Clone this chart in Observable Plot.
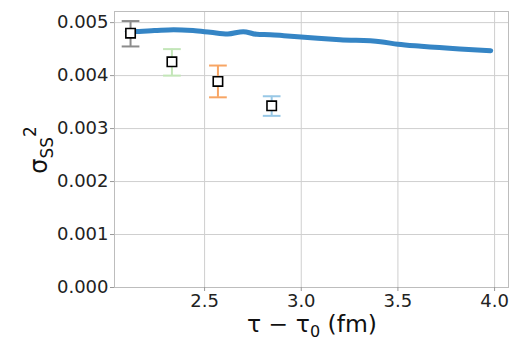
<!DOCTYPE html>
<html><head><meta charset="utf-8">
<script src="https://cdn.jsdelivr.net/npm/d3@7"></script>
<script src="https://cdn.jsdelivr.net/npm/@observablehq/plot@0.6"></script>
<style>body{margin:0;background:#fff;} svg{font-family:"DejaVu Sans",sans-serif;}</style>
</head><body><div id="chart"></div>
<script>
// Continuous curve
const lineX = [2.10, 2.13, 2.24, 2.34, 2.44, 2.53, 2.62, 2.70, 2.77, 2.84, 2.91, 3.05, 3.20, 3.41, 3.50, 3.62, 3.82, 3.98];
const lineY = [0.004830, 0.004832, 0.004850, 0.004867, 0.004850, 0.004818, 0.004786, 0.004830, 0.004780, 0.004772, 0.004754, 0.004716, 0.004678, 0.004640, 0.004591, 0.004553, 0.004502, 0.004470];
// Points with error bars
const ptX = [2.117, 2.331, 2.569, 2.847];
const ptY = [0.00480, 0.00426, 0.00389, 0.00343];
const ptLo = [0.00455, 0.00400, 0.00359, 0.00324];
const ptHi = [0.00503, 0.00450, 0.00419, 0.00361];
const ptColor = ["#8c8c8c", "#c3e6b8", "#f7a564", "#98c8e6"];
const xTicks = [2.5, 3.0, 3.5, 4.0];
const yTicks = [0, 0.001, 0.002, 0.003, 0.004, 0.005];

const lineData = lineX.map((x, i) => ({x, y: lineY[i]}));
const pts = ptX.map((x, i) => ({x, y: ptY[i], lo: ptLo[i], hi: ptHi[i], c: ptColor[i]}));

const capSymbol = {draw(ctx, size) { const w = Math.sqrt(size) / 2; ctx.moveTo(-w, 0); ctx.lineTo(w, 0); }};

const plot = Plot.plot({
  width: 512, height: 340,
  marginLeft: 114, marginRight: 4, marginTop: 11, marginBottom: 53,
  style: {fontSize: "18px", fontFamily: "DejaVu Sans, sans-serif", color: "#222"},
  x: {domain: [2.034, 4.072], label: null},
  y: {domain: [0, 0.00521], label: null},
  marks: [
    Plot.gridX(xTicks, {stroke: "#cfcfcf", strokeOpacity: 1, strokeWidth: 1}),
    Plot.gridY(yTicks, {stroke: "#cfcfcf", strokeOpacity: 1, strokeWidth: 1}),
    Plot.frame({stroke: "#bdbdbd"}),
    Plot.axisX(xTicks, {tickSize: 4, tickPadding: 3, tickFormat: d3.format(".1f"), stroke: "#999", fontSize: 18, label: null}),
    Plot.axisY(yTicks, {tickSize: 4, tickPadding: 2, tickFormat: d3.format(".3f"), stroke: "#999", fontSize: 18, label: null}),
    Plot.line(lineData, {x: "x", y: "y", stroke: "#3585c5", strokeWidth: 5, curve: "monotone-x"}),
    Plot.ruleX(pts, {x: "x", y1: "lo", y2: "hi", stroke: "c", strokeWidth: 2}),
    Plot.dot(pts, {x: "x", y: "lo", stroke: "c", strokeWidth: 2, symbol: capSymbol, r: 10}),
    Plot.dot(pts, {x: "x", y: "hi", stroke: "c", strokeWidth: 2, symbol: capSymbol, r: 10}),
    Plot.dot(pts, {x: "x", y: "y", symbol: "square", r: 5.3, fill: "white", stroke: "black", strokeWidth: 1.6})
  ]
});
document.getElementById("chart").append(plot);

const svg = d3.select(plot);
const xl = svg.append("text").attr("x", 312).attr("y", 332).attr("text-anchor", "middle")
  .attr("font-size", 23.5).attr("fill", "#111");
xl.append("tspan").text("τ − τ");
xl.append("tspan").attr("font-size", 16).attr("dy", 5).text("0");
xl.append("tspan").attr("dy", -5).text(" (fm)");

const yl = svg.append("text").attr("transform", "translate(47,150) rotate(-90)").attr("text-anchor", "middle")
  .attr("font-size", 24).attr("fill", "#111");
yl.append("tspan").text("σ");
yl.append("tspan").attr("font-size", 17).attr("dy", 6).text("SS");
yl.append("tspan").attr("font-size", 17).attr("dy", -17).text("2");
</script></body></html>
